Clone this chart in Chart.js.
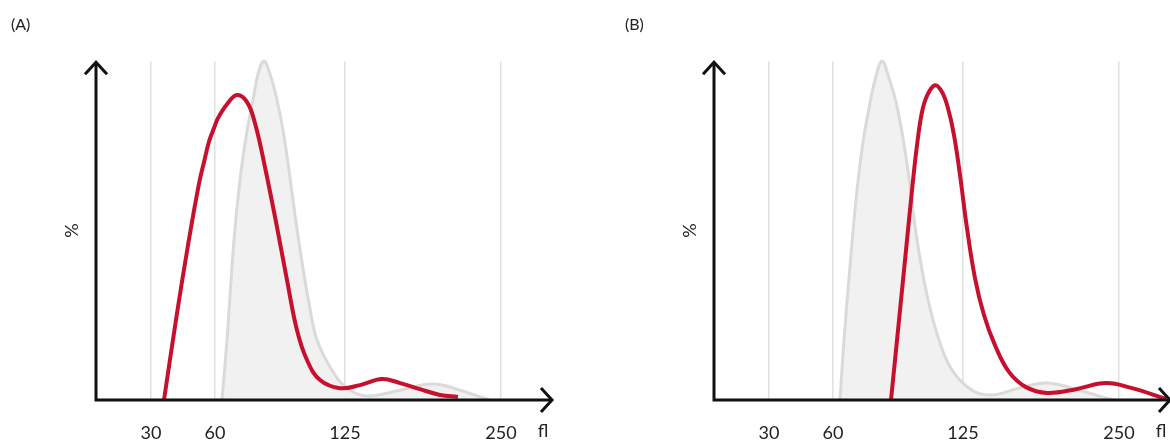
<!DOCTYPE html>
<html>
<head>
<meta charset="utf-8">
<script src="https://cdn.jsdelivr.net/npm/chart.js@4.4.1/dist/chart.umd.min.js"></script>
<style>
  html, body { margin: 0; padding: 0; background: #fff; }
  body { width: 1170px; height: 443px; overflow: hidden; position: relative; }
  .panel { position: absolute; top: 0; width: 560px; height: 443px; }
  #panelA { left: 0; }
  #panelB { left: 618px; }
</style>
</head>
<body>
<div class="panel" id="panelA"><canvas id="chartA" width="560" height="443"></canvas></div>
<div class="panel" id="panelB"><canvas id="chartB" width="560" height="443"></canvas></div>
<script>
// x axis: cell volume (fl), y axis: %
const flTicks = [30, 60, 125, 250];
const flMin = 0;
const flMax = 290;

// panel A
const greyA_fl  = [63.5, 66, 69.5, 72.5, 74.5, 76.5, 79, 81.5, 84.5, 87.5, 91, 94, 97, 100, 103.5, 107, 111, 118.5, 126.6, 142.6, 169.1, 195.5, 217.2, 235.5, 241];
const greyA_pct = [0, 17.7, 47.2, 64.9, 73.7, 81.1, 88.5, 96.2, 100, 96.2, 88.5, 79.6, 67.8, 54.6, 40.7, 28.6, 17.7, 8.8, 3.5, 1.2, 2.9, 4.7, 2.9, 0.6, 0];
const redA_fl   = [36.1, 41.7, 47.4, 52.5, 55, 57.2, 59.5, 61.5, 66, 71, 76, 80, 85, 91, 96, 101, 106, 112.5, 122.5, 137, 154.6, 169.1, 185.1, 201.1, 215.5];
const redA_pct  = [0, 23.6, 45.9, 63.9, 70.6, 76.3, 80.2, 83.2, 87.3, 90, 87.9, 81.7, 68.7, 51.0, 35.4, 20.6, 11.8, 5.9, 3.5, 4.4, 6.2, 5.0, 3.2, 1.5, 0.9];

// panel B
const greyB_fl  = [63.5, 65.5, 69, 72, 75, 78, 81, 84.5, 88, 91.5, 95, 98.5, 102, 107, 113, 119.5, 132.2, 148.2, 169.9, 192.3, 217.9, 239.5, 246];
const greyB_pct = [0, 17.7, 42.8, 61.9, 76.1, 86.1, 94.4, 100, 95.0, 87.9, 77.3, 63.4, 47.2, 31.0, 17.7, 8.8, 2.9, 1.5, 3.5, 5.0, 2.9, 0.6, 0];
const redB_fl   = [89, 91.5, 96.5, 99.5, 102, 104.5, 107, 111, 114.5, 117.5, 120.5, 123.5, 128.2, 134.6, 141.8, 150.6, 161.8, 175.5, 192.3, 215.5, 239.5, 260, 286.2];
const redB_pct  = [0, 14.7, 44.2, 61.9, 75.2, 85.0, 89.8, 92.9, 90.9, 86.1, 78.2, 66.4, 50.7, 36.0, 25.1, 16.2, 8.3, 3.8, 2.1, 3.2, 5.0, 3.5, 0.3];

const panelTitles = ['(A)', '(B)'];

// the fl axis is not linear: each tick interval gets its own share of the width
const flStops   = [0, 30, 60, 125, 250, 290];
const flShare   = [0, 55, 119, 249, 405, 457].map(v => v / 457);

class FlScale extends Chart.LinearScale {
  getPixelForValue(v) {
    let i = 1;
    while (i < flStops.length - 1 && v > flStops[i]) i++;
    const t = (v - flStops[i - 1]) / (flStops[i] - flStops[i - 1]);
    const f = flShare[i - 1] + t * (flShare[i] - flShare[i - 1]);
    return this.getPixelForDecimal(f);
  }
  getValueForPixel(p) {
    const f = this.getDecimalForPixel(p);
    let i = 1;
    while (i < flShare.length - 1 && f > flShare[i]) i++;
    const t = (f - flShare[i - 1]) / (flShare[i] - flShare[i - 1]);
    return flStops[i - 1] + t * (flStops[i] - flStops[i - 1]);
  }
}
FlScale.id = 'fl';
FlScale.defaults = {};
Chart.register(FlScale);

const FONT = 'Lato, "Open Sans", sans-serif';

const axesArrows = {
  id: 'axesArrows',
  afterDatasetsDraw(chart) {
    const { ctx, chartArea: { left, right, top, bottom } } = chart;
    ctx.save();
    ctx.strokeStyle = '#111';
    ctx.lineWidth = 3;
    ctx.beginPath();
    ctx.moveTo(left, bottom + 1.5);
    ctx.lineTo(left, top + 1);
    ctx.moveTo(left - 1.5, bottom);
    ctx.lineTo(right - 1, bottom);
    ctx.stroke();
    ctx.beginPath();
    ctx.moveTo(left - 11, top + 13);
    ctx.lineTo(left, top + 1);
    ctx.lineTo(left + 11, top + 13);
    ctx.moveTo(right - 12, bottom - 12);
    ctx.lineTo(right - 1, bottom);
    ctx.lineTo(right - 12, bottom + 12);
    ctx.stroke();
    ctx.fillStyle = '#222';
    ctx.font = '18px ' + FONT;
    ctx.textAlign = 'center';
    ctx.textBaseline = 'middle';
    ctx.fillText('fl', right - 10, bottom + 31);
    ctx.restore();
  }
};

const toPoints = (xs, ys) => xs.map((x, i) => ({ x: x, y: ys[i] }));

const makeChart = (canvas, title, grey, red, padLeft) => {
  return new Chart(canvas.getContext('2d'), {
    type: 'line',
    data: {
      datasets: [{
        data: grey,
        order: 1,
        fill: 'origin',
        backgroundColor: '#f1f1f1',
        borderColor: '#dadada',
        borderWidth: 3,
        pointRadius: 0,
        tension: 0.4,
        capBezierPoints: false,
        clip: { left: 0, right: 0, top: 4, bottom: 0 }
      }, {
        data: red,
        order: 0,
        fill: false,
        borderColor: '#c8102e',
        borderWidth: 4,
        pointRadius: 0,
        tension: 0.4,
        capBezierPoints: false,
        clip: { left: 0, right: 0, top: 4, bottom: 0 }
      }]
    },
    options: {
      responsive: false,
      animation: false,
      layout: { padding: { left: padLeft, right: 7, top: 0, bottom: 0 } },
      plugins: {
        legend: { display: false },
        tooltip: { enabled: false },
        title: {
          display: true,
          text: title,
          align: 'start',
          color: '#222',
          font: { family: FONT, size: 16, weight: 'normal' },
          padding: { top: 15, bottom: 27 }
        }
      },
      scales: {
        x: {
          type: 'fl',
          min: flMin,
          max: flMax,
          afterBuildTicks: (s) => { s.ticks = flTicks.map(v => ({ value: v })); },
          afterFit: (s) => { s.height = 43; },
          border: { display: false },
          grid: { color: '#e0e0e0', lineWidth: 1.5, drawTicks: false },
          ticks: { color: '#222', padding: 22, maxRotation: 0, font: { family: FONT, size: 18 } }
        },
        y: {
          min: 0,
          max: 100,
          afterFit: (s) => { s.width = 96 - padLeft; },
          border: { display: false },
          grid: { display: false },
          ticks: { display: false },
          title: {
            display: true,
            text: '%',
            color: '#222',
            font: { family: FONT, size: 18 },
            padding: { top: 61 - padLeft, bottom: 0 }
          }
        }
      }
    },
    plugins: [axesArrows]
  });
};

makeChart(document.getElementById('chartA'), panelTitles[0], toPoints(greyA_fl, greyA_pct), toPoints(redA_fl, redA_pct), 11);
makeChart(document.getElementById('chartB'), panelTitles[1], toPoints(greyB_fl, greyB_pct), toPoints(redB_fl, redB_pct), 7);
</script>
</body>
</html>
